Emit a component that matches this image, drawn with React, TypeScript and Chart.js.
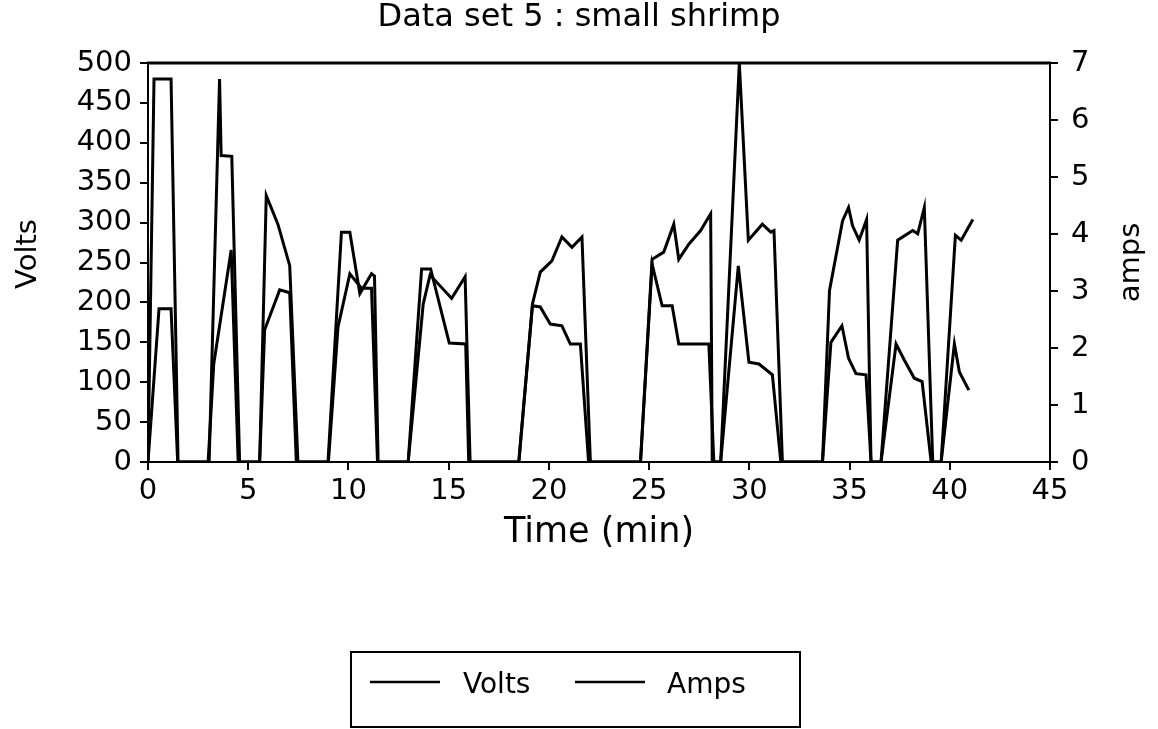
import React, { useEffect, useRef } from "react";
import { Chart, registerables } from "chart.js";

Chart.register(...registerables);

const chartTitle = "Data set 5 : small shrimp";
const xAxisTitle = "Time (min)";
const leftAxisTitle = "Volts";
const rightAxisTitle = "amps";
const seriesNames = ["Volts", "Amps"];

const voltsTime = [
  0, 0.3, 1.15, 1.5,
  3.05, 3.57, 3.65, 4.18, 4.57,
  5.57, 5.9, 6.48, 7.07, 7.48,
  8.98, 9.65, 10.07, 10.57, 11.15, 11.3, 11.48,
  12.98, 13.65, 14.1, 15.03, 15.85, 16.0,
  18.5, 19.18, 19.57, 20.15, 20.65, 21.15, 21.65, 22.07,
  24.57, 25.15, 25.73, 26.23, 26.48, 26.98, 27.57, 28.07, 28.15,
  28.57, 29.5, 29.95, 30.65, 31.07, 31.23, 31.65,
  33.65, 34.0, 34.65, 34.95, 35.15, 35.48, 35.85, 36.07,
  36.57, 37.4, 38.15, 38.4, 38.73, 39.15,
  39.57, 40.28, 40.57, 41.15,
];
const voltsValues = [
  0, 480, 480, 0,
  0, 480, 384, 383, 0,
  0, 334, 298, 246, 0,
  0, 288, 288, 211, 236, 233, 0,
  0, 242, 242, 149, 148, 0,
  0, 198, 238, 252, 282, 269, 282, 0,
  0, 254, 263, 298, 254, 273, 290, 311, 0,
  0, 500, 278, 298, 288, 290, 0,
  0, 215, 302, 319, 296, 278, 304, 0,
  0, 278, 290, 286, 319, 0,
  0, 284, 278, 304,
];

const ampsTime = [
  0, 0.55, 1.15, 1.48,
  3.0, 3.28, 4.15, 4.5,
  5.57, 5.82, 6.57, 7.07, 7.4,
  9.0, 9.48, 10.07, 10.65, 11.15, 11.45,
  12.98, 13.73, 14.07, 15.15, 15.82, 16.07,
  18.5, 19.18, 19.57, 20.07, 20.65, 21.07, 21.57, 21.98,
  24.57, 25.15, 25.65, 26.15, 26.48, 27.98, 28.23,
  28.57, 29.45, 29.98, 30.48, 31.15, 31.57,
  33.65, 34.07, 34.62, 34.95, 35.32, 35.82, 36.07,
  36.57, 37.32, 37.73, 38.23, 38.62, 39.07,
  39.57, 40.23, 40.48, 40.95,
];
const ampsValues = [
  0, 2.69, 2.69, 0,
  0, 1.72, 3.72, 0,
  0, 2.32, 3.02, 2.97, 0,
  0, 2.37, 3.3, 3.05, 3.05, 0,
  0, 2.77, 3.28, 2.87, 3.25, 0,
  0, 2.74, 2.72, 2.42, 2.39, 2.07, 2.07, 0,
  0, 3.47, 2.74, 2.74, 2.07, 2.07, 0,
  0, 3.44, 1.75, 1.72, 1.53, 0,
  0, 2.1, 2.39, 1.82, 1.55, 1.53, 0,
  0, 2.07, 1.79, 1.47, 1.41, 0,
  0, 2.07, 1.58, 1.26,
];

const xMin = 0, xMax = 45, xStep = 5;
const voltsMin = 0, voltsMax = 500, voltsStep = 50;
const ampsMin = 0, ampsMax = 7, ampsStep = 1;

const FONT = "'DejaVu Sans', 'Liberation Sans', Arial, sans-serif";

export default function App() {
  const canvasRef = useRef<HTMLCanvasElement | null>(null);

  useEffect(() => {
    const canvas = canvasRef.current;
    if (!canvas) return;

    const volts = voltsTime.map((t, i) => ({ x: t, y: voltsValues[i] }));
    const amps = ampsTime.map((t, i) => ({ x: t, y: ampsValues[i] }));

    const extrasPlugin = {
      id: "extras",
      afterDraw(chart: any) {
        const { ctx, chartArea } = chart;
        const { left, right, top, bottom } = chartArea;
        ctx.save();
        // top frame line
        ctx.strokeStyle = "#000";
        ctx.lineWidth = 3;
        ctx.beginPath();
        ctx.moveTo(left - 1, top);
        ctx.lineTo(right + 1, top);
        ctx.stroke();

        // axis titles (both read bottom to top)
        ctx.fillStyle = "#000";
        ctx.font = `29px ${FONT}`;
        ctx.textAlign = "center";
        ctx.textBaseline = "middle";
        ctx.translate(28, 254);
        ctx.rotate(-Math.PI / 2);
        ctx.fillText(leftAxisTitle, 0, 0);
        ctx.setTransform(1, 0, 0, 1, 0, 0);
        ctx.translate(1131, (top + bottom) / 2);
        ctx.rotate(-Math.PI / 2);
        ctx.fillText(rightAxisTitle, 0, 0);
        ctx.setTransform(1, 0, 0, 1, 0, 0);

        // legend box
        ctx.lineWidth = 2;
        ctx.strokeRect(351, 652, 449, 75);
        ctx.lineWidth = 2.5;
        ctx.beginPath();
        ctx.moveTo(370, 682);
        ctx.lineTo(440, 682);
        ctx.moveTo(575, 682);
        ctx.lineTo(645, 682);
        ctx.stroke();
        ctx.font = `28px ${FONT}`;
        ctx.textAlign = "left";
        ctx.textBaseline = "alphabetic";
        ctx.fillText(seriesNames[0], 463, 693);
        ctx.fillText(seriesNames[1], 667, 693);
        ctx.restore();
      },
    };

    const axisGrid = {
      drawOnChartArea: false,
      drawTicks: true,
      tickLength: 8,
      color: "#000",
      lineWidth: 2,
    };
    const axisBorder = { display: true, color: "#000", width: 2 };
    const tickFont = { family: FONT, size: 29 };

    const chart = new Chart(canvas, {
      type: "line",
      data: {
        datasets: [
          {
            label: seriesNames[0],
            data: volts,
            yAxisID: "y",
            borderColor: "#000",
            borderWidth: 3,
            pointRadius: 0,
            tension: 0,
            fill: false,
          },
          {
            label: seriesNames[1],
            data: amps,
            yAxisID: "y1",
            borderColor: "#000",
            borderWidth: 3,
            pointRadius: 0,
            tension: 0,
            fill: false,
          },
        ],
      },
      options: {
        responsive: false,
        animation: false,
        maintainAspectRatio: false,
        layout: { padding: { top: 0, left: 0, right: 0, bottom: 167 } },
        plugins: {
          legend: { display: false },
          tooltip: { enabled: false },
          title: {
            display: true,
            text: chartTitle,
            color: "#000",
            font: { family: FONT, size: 32, weight: "normal", lineHeight: 1.0 },
            padding: { top: 2, bottom: 29 },
          },
        },
        scales: {
          x: {
            type: "linear",
            min: xMin,
            max: xMax,
            grid: axisGrid,
            border: axisBorder,
            ticks: { stepSize: xStep, color: "#000", font: tickFont, padding: 4, maxRotation: 0, autoSkip: false },
            title: {
              display: true,
              text: xAxisTitle,
              color: "#000",
              font: { family: FONT, size: 35 },
              padding: { top: 0, bottom: 8 },
            },
            afterFit(scale: any) {
              scale.height = 100;
            },
          },
          y: {
            type: "linear",
            position: "left",
            min: voltsMin,
            max: voltsMax,
            grid: axisGrid,
            border: axisBorder,
            ticks: { stepSize: voltsStep, color: "#000", font: tickFont, padding: 8, autoSkip: false },
            title: { display: false },
            afterFit(scale: any) {
              scale.width = 148;
            },
          },
          y1: {
            type: "linear",
            position: "right",
            min: ampsMin,
            max: ampsMax,
            grid: axisGrid,
            border: axisBorder,
            ticks: { stepSize: ampsStep, color: "#000", font: tickFont, padding: 13, autoSkip: false },
            title: { display: false },
            afterFit(scale: any) {
              scale.width = 108;
            },
          },
        },
      },
      plugins: [extrasPlugin],
    });

    return () => {
      chart.destroy();
    };
  }, []);

  return (
    <div style={{ position: "absolute", left: 0, top: 0, width: 1158, height: 729, background: "#fff" }}>
      <canvas ref={canvasRef} width={1158} height={729} style={{ display: "block" }} />
    </div>
  );
}
